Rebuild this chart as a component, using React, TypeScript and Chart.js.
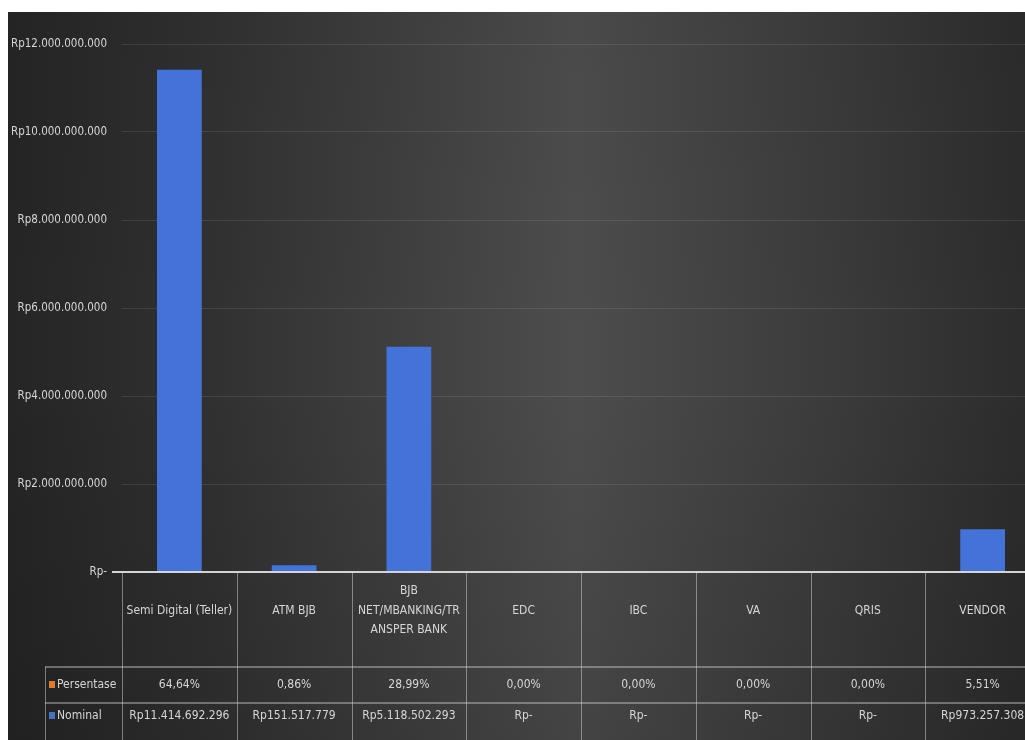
import React, { useEffect, useRef } from "react";
import { Chart, registerables } from "chart.js";

Chart.register(...registerables);

const categories: string[][] = [
  ["Semi Digital (Teller)"],
  ["ATM BJB"],
  ["BJB", "NET/MBANKING/TR", "ANSPER BANK"],
  ["EDC"],
  ["IBC"],
  ["VA"],
  ["QRIS"],
  ["VENDOR"],
];
const nominal: number[] = [11414692296, 151517779, 5118502293, 0, 0, 0, 0, 973257308];
const persentase: string[] = ["64,64%", "0,86%", "28,99%", "0,00%", "0,00%", "0,00%", "0,00%", "5,51%"];
const nominalLabels: string[] = [
  "Rp11.414.692.296",
  "Rp151.517.779",
  "Rp5.118.502.293",
  "Rp-",
  "Rp-",
  "Rp-",
  "Rp-",
  "Rp973.257.308",
];
const rowNames: string[] = ["Persentase", "Nominal"];
const yMax = 12000000000;
const yStep = 2000000000;

const FONT = "'Liberation Sans Narrow', 'DejaVu Sans Condensed', 'Liberation Sans', sans-serif";
const TEXT = "#d6d6d6";

function rp(v: number): string {
  if (v === 0) return "Rp-";
  return "Rp" + Math.round(v).toString().replace(/\B(?=(\d{3})+(?!\d))/g, ".");
}

const bgPlugin = {
  id: "bg",
  beforeDraw(chart: any) {
    const { ctx, width, height } = chart;
    ctx.save();
    const g = ctx.createLinearGradient(0, 0, width, 0);
    g.addColorStop(0, "#252525");
    g.addColorStop(0.2, "#313131");
    g.addColorStop(0.55, "#4d4d4d");
    g.addColorStop(0.8, "#3b3b3b");
    g.addColorStop(1, "#2b2b2b");
    ctx.fillStyle = g;
    ctx.fillRect(0, 0, width, height);
    const v = ctx.createLinearGradient(0, 0, 0, height);
    v.addColorStop(0, "rgba(0,0,0,0.04)");
    v.addColorStop(0.5, "rgba(0,0,0,0)");
    v.addColorStop(1, "rgba(0,0,0,0.12)");
    ctx.fillStyle = v;
    ctx.fillRect(0, 0, width, height);
    ctx.restore();
  },
};

const tablePlugin = {
  id: "dataTable",
  afterDraw(chart: any) {
    const { ctx, chartArea } = chart;
    const xs = chart.scales.x;
    const n = categories.length;
    const colW = (chartArea.right - chartArea.left) / n;
    const bottom = chartArea.bottom;
    const row1 = bottom + 95;
    const row2 = bottom + 131;
    const H = chart.height;
    const tableLeft = 37;
    ctx.save();
    ctx.strokeStyle = "rgba(200,200,200,0.55)";
    ctx.lineWidth = 1;
    for (let i = 0; i <= n; i++) {
      const x = Math.round(chartArea.left + i * colW) + 0.5;
      ctx.beginPath();
      ctx.moveTo(x, bottom);
      ctx.lineTo(x, H);
      ctx.stroke();
    }
    ctx.beginPath();
    ctx.moveTo(tableLeft + 0.5, row1);
    ctx.lineTo(tableLeft + 0.5, H);
    ctx.stroke();
    ctx.strokeStyle = "rgba(200,200,200,0.6)";
    ctx.lineWidth = 1.5;
    [row1, row2].forEach((y) => {
      ctx.beginPath();
      ctx.moveTo(tableLeft, y);
      ctx.lineTo(chart.width, y);
      ctx.stroke();
    });
    ctx.strokeStyle = "#d4d4d4";
    ctx.lineWidth = 2;
    ctx.beginPath();
    ctx.moveTo(chartArea.left - 10, bottom);
    ctx.lineTo(chart.width, bottom);
    ctx.stroke();

    ctx.fillStyle = TEXT;
    ctx.textAlign = "center";
    ctx.textBaseline = "middle";
    ctx.font = "12px " + FONT;
    for (let i = 0; i < n; i++) {
      const cx = xs.getPixelForValue(i);
      const lines = categories[i];
      const lh = 19.5;
      const top = (bottom + row1) / 2 - 9 - ((lines.length - 1) * lh) / 2;
      lines.forEach((l, j) => ctx.fillText(l, cx, top + j * lh));
      ctx.fillText(persentase[i], cx, (row1 + row2) / 2);
      ctx.fillText(nominalLabels[i], cx, row2 + 13);
    }
    const keyColors = ["#e07a2a", "#4472c4"];
    const ys = [(row1 + row2) / 2, row2 + 13];
    ctx.textAlign = "left";
    rowNames.forEach((name, k) => {
      ctx.fillStyle = keyColors[k];
      ctx.fillRect(tableLeft + 4, ys[k] - 4, 6, 7);
      ctx.fillStyle = TEXT;
      ctx.fillText(name, tableLeft + 12, ys[k]);
    });
    ctx.restore();
  },
};

export default function App() {
  const ref = useRef<HTMLCanvasElement | null>(null);
  useEffect(() => {
    if (!ref.current) return;
    const chart = new Chart(ref.current, {
      type: "bar",
      data: {
        labels: categories.map((c) => c.join(" ")),
        datasets: [
          {
            label: "Nominal",
            data: nominal,
            backgroundColor: "#4373d8",
            borderWidth: 0,
            categoryPercentage: 1,
            barPercentage: 0.39,
          },
        ],
      },
      options: {
        responsive: false,
        animation: false,
        layout: { padding: { top: 32, right: 0, bottom: 168, left: 0 } },
        plugins: { legend: { display: false }, tooltip: { enabled: false } },
        scales: {
          x: { display: false },
          y: {
            min: 0,
            max: yMax,
            border: { display: false },
            grid: { color: "rgba(255,255,255,0.1)", drawTicks: false },
            afterFit(scale: any) {
              scale.width = 114;
            },
            ticks: {
              stepSize: yStep,
              padding: 15,
              color: TEXT,
              font: { family: FONT, size: 11.5 },
              callback: (v: any) => rp(Number(v)),
            },
          },
        },
      },
      plugins: [bgPlugin, tablePlugin],
    });
    return () => chart.destroy();
  }, []);
  return (
    <div
      style={{
        position: "fixed",
        left: 8,
        top: 12,
        width: 1017,
        height: 728,
        overflow: "hidden",
      }}
    >
      <canvas ref={ref} width={1032} height={728} style={{ width: 1032, height: 728, display: "block" }} />
    </div>
  );
}
